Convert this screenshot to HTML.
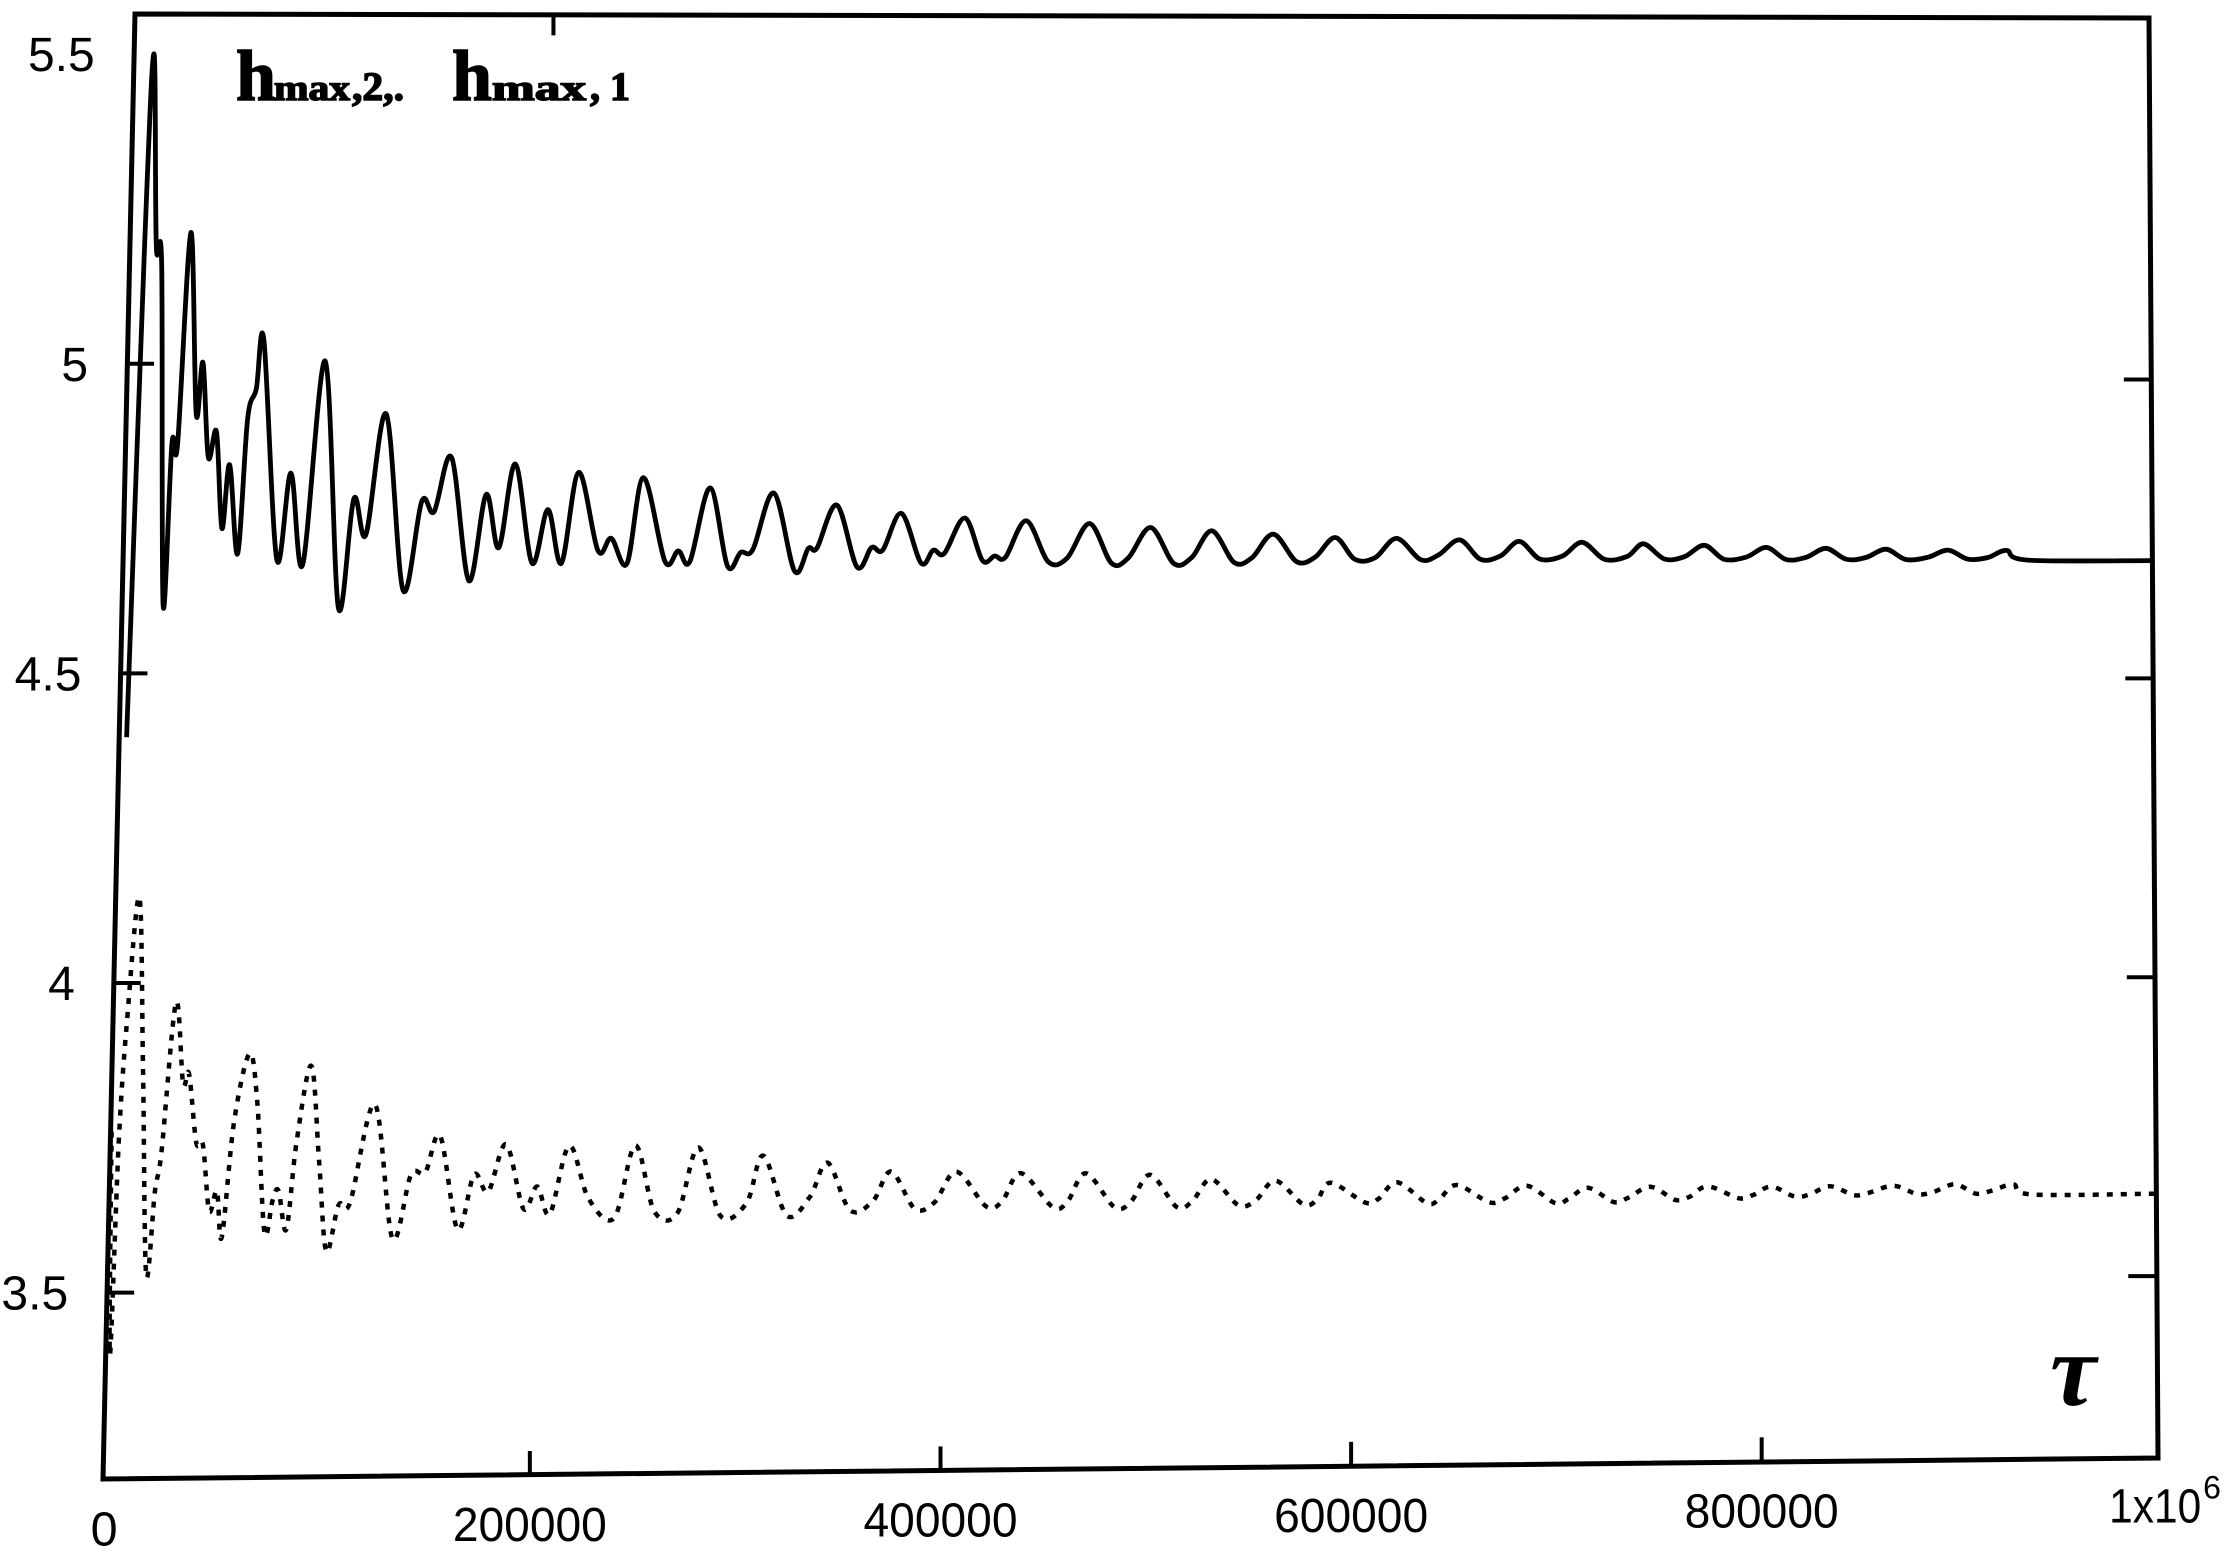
<!DOCTYPE html>
<html><head><meta charset="utf-8">
<style>
html,body{margin:0;padding:0;background:#fff;}
svg{display:block;}
</style></head>
<body>
<svg id="chart" xmlns="http://www.w3.org/2000/svg" width="2237" height="1566" viewBox="0 0 2237 1566">
<rect x="0" y="0" width="2237" height="1566" fill="#fff"/>
<polygon points="135,14 2149,18 2158,1458 103,1479" fill="none" stroke="#000" stroke-width="5" stroke-linejoin="miter"/>
<g id="ticks"></g>
<g id="labels" font-family="'Liberation Sans', Arial, sans-serif" font-size="48" fill="#000"></g>
<g id="series"></g>
<text font-family="'Liberation Serif', 'DejaVu Serif', serif" font-weight="bold" fill="#000" stroke="#000" stroke-width="1.5">
  <tspan x="236" y="100" font-size="72">h</tspan><tspan x="274" y="100" font-size="36" textLength="76" lengthAdjust="spacingAndGlyphs">max</tspan><tspan x="352" y="100" font-size="40" textLength="52" lengthAdjust="spacingAndGlyphs">,2,.</tspan><tspan x="452" y="100" font-size="72">h</tspan><tspan x="492" y="100" font-size="36" textLength="94" lengthAdjust="spacingAndGlyphs">max</tspan><tspan x="590" y="100" font-size="40" textLength="40" lengthAdjust="spacingAndGlyphs">, 1</tspan>
</text>
<text x="2050" y="1405" font-family="'Liberation Serif', 'DejaVu Serif', serif" font-style="italic" font-weight="bold" font-size="104" fill="#000">τ</text>
</svg>
<script>
// ---- data (tau, h) ----
const solidTau = [3200,7000,9600,12700,15600,19800,22500,25300,29700,34200,37000,40600,44400,48000,51200,56000,59600,63600,66900,75400,81500,88200,97400,106200,112800,119100,128000,137900,146300,152500,160700,170200,178000,184700,192200,201200,208600,215700,223500,233600,240100,248000,255500,266700,273200,279000,288500,297500,304000,310000,320000,330600,337300,341600,351100,361400,368500,374000,383000,392900,398900,404400,414300,423100,429200,434500,444600,455600,464900,475900,486800,495100,506000,517500,526300,536200,547300,556000,566500,578000,587000,597000,606800,616700,627300,639200,647900,658400,668700,678500,687800,698000,709000,718800,729900,741000,749000,759300,769200,779000,788800,799800,809600,819400,829200,839000,848900,858600,868500,878300,889300,899100,908900,918800,928000,938300,1000000];
const solidH = [4.397,5.20,5.501,5.192,5.159,4.611,4.871,4.871,5.213,4.920,5.003,4.850,4.891,4.735,4.838,4.694,4.912,4.961,5.040,4.685,4.825,4.677,5.007,4.607,4.784,4.726,4.922,4.636,4.780,4.764,4.852,4.652,4.792,4.706,4.842,4.681,4.768,4.681,4.829,4.702,4.722,4.681,4.821,4.685,4.702,4.685,4.805,4.678,4.700,4.705,4.797,4.670,4.707,4.708,4.778,4.677,4.709,4.705,4.765,4.684,4.705,4.700,4.758,4.689,4.696,4.694,4.754,4.687,4.693,4.750,4.685,4.694,4.744,4.685,4.695,4.739,4.687,4.695,4.734,4.689,4.696,4.729,4.693,4.696,4.728,4.693,4.701,4.726,4.694,4.700,4.724,4.695,4.700,4.723,4.695,4.700,4.721,4.696,4.700,4.719,4.696,4.700,4.716,4.696,4.700,4.715,4.697,4.700,4.714,4.697,4.701,4.713,4.698,4.701,4.713,4.697,4.697];
const dotTau = [0,1500,3600,6400,11200,14800,18400,21800,24600,30200,34500,37300,41500,44800,48500,52100,54900,59800,66700,71000,75700,79400,82200,86400,90600,97100,101800,106100,111700,117300,128600,138300,146800,153800,160800,170100,177700,184700,193100,202100,208600,215000,224000,233800,246500,256300,266100,277400,287200,298500,311100,319000,330800,342000,350500,361700,372900,381600,393300,403000,413500,428100,436000,445000,460700,468000,476900,491000,499000,508300,521300,529000,538200,551600,560000,569600,583100,590000,596600,613400,620000,629100,643800,650000,658400,674100,682000,692500,706300,713000,722400,735000,742000,753000,765000,772000,781000,796000,803000,812000,823600,831000,840800,852300,859000,871800,883300,891000,901800,912000,920000,930400,939600,1000000];
const dotH = [3.76,3.40,3.742,3.94,4.138,3.853,3.528,3.663,3.727,3.968,3.837,3.853,3.742,3.738,3.631,3.663,3.588,3.774,3.885,3.806,3.596,3.647,3.663,3.600,3.742,3.865,3.71,3.564,3.639,3.643,3.802,3.584,3.687,3.691,3.75,3.598,3.687,3.659,3.736,3.631,3.667,3.622,3.733,3.647,3.615,3.733,3.625,3.622,3.729,3.617,3.638,3.715,3.617,3.647,3.703,3.625,3.640,3.688,3.627,3.637,3.687,3.630,3.638,3.684,3.628,3.637,3.683,3.627,3.636,3.680,3.627,3.636,3.672,3.629,3.637,3.669,3.630,3.637,3.665,3.632,3.638,3.665,3.630,3.638,3.660,3.631,3.638,3.658,3.629,3.636,3.654,3.630,3.637,3.655,3.633,3.638,3.655,3.635,3.640,3.654,3.637,3.641,3.654,3.639,3.642,3.654,3.640,3.643,3.656,3.640,3.645,3.655,3.638,3.638];
const yTicks = [3.5,4,4.5,5,5.5];
const yTickLabels = ["3.5","4","4.5","5","5.5"];
const xTicks = [0,200000,400000,600000,800000,1000000];
const xTickLabels = ["0","200000","400000","600000","800000","1x10"];

// ---- axis mapping (scanned, slightly skewed frame) ----
const S = 1.4267;
function px(tau, h){
  const t = tau/1e6;
  const yL = 255 - (h-5)*434;
  const yR = 266 - (h-5)*419;
  const y = yL + t*(yR-yL);
  const xL = 73 + (1037-y)/1027*22;
  const xR = 1512 - (1020-y)/1008*5;
  const x = xL + t*(xR-xL);
  return [x*S, y*S];
}
function catmull(pts){
  let d = "M"+pts[0][0].toFixed(1)+","+pts[0][1].toFixed(1);
  for(let i=0;i<pts.length-1;i++){
    const p0=pts[Math.max(0,i-1)], p1=pts[i], p2=pts[i+1], p3=pts[Math.min(pts.length-1,i+2)];
    const c1=[p1[0]+(p2[0]-p0[0])/6, p1[1]+(p2[1]-p0[1])/6];
    const c2=[p2[0]-(p3[0]-p1[0])/6, p2[1]-(p3[1]-p1[1])/6];
    d+=" C"+c1[0].toFixed(1)+","+c1[1].toFixed(1)+" "+c2[0].toFixed(1)+","+c2[1].toFixed(1)+" "+p2[0].toFixed(1)+","+p2[1].toFixed(1);
  }
  return d;
}
const NS="http://www.w3.org/2000/svg";
const series=document.getElementById('series');

const solid=document.createElementNS(NS,'path');
solid.setAttribute('d', catmull(solidTau.map((t,i)=>px(t,solidH[i]))));
solid.setAttribute('fill','none');solid.setAttribute('stroke','#000');
solid.setAttribute('stroke-width','4.8');solid.setAttribute('stroke-linejoin','round');


series.appendChild(solid);

const dot=document.createElementNS(NS,'path');
dot.setAttribute('d', catmull(dotTau.map((t,i)=>px(t,dotH[i]))));
dot.setAttribute('fill','none');dot.setAttribute('stroke','#000');
dot.setAttribute('stroke-width','4.5');dot.setAttribute('stroke-dasharray','6 8');


series.appendChild(dot);

// ---- ticks & labels ----
const ticks=document.getElementById('ticks');
const labels=document.getElementById('labels');
function line(x1,y1,x2,y2,name){
  const l=document.createElementNS(NS,'line');
  l.setAttribute('x1',x1);l.setAttribute('y1',y1);l.setAttribute('x2',x2);l.setAttribute('y2',y2);
  l.setAttribute('stroke','#000');l.setAttribute('stroke-width','4');
  
  
  ticks.appendChild(l);
}
yTicks.forEach((v,i)=>{
  if(v<5.5){
    const a=px(0,v); line(a[0],a[1],a[0]+26,a[1],'y-tick-left');
    const b=px(1e6,v); line(b[0]-28,b[1],b[0],b[1],'y-tick-right');
  }
  const a=px(0,v);
  const tx=document.createElementNS(NS,'text');
  tx.setAttribute('x',a[0]-40);tx.setAttribute('y',a[1]+17);
  tx.setAttribute('text-anchor','end');
  tx.textContent=yTickLabels[i];
  
  
  labels.appendChild(tx);
});
const scanShift = 15; // scanned print offset of inner x ticks
xTicks.forEach((t,i)=>{
  const inner = (t>0 && t<1e6);
  const sh = inner ? scanShift : 0;
  if(inner){
    const a=px(t,3.198); line(a[0]+sh,a[1],a[0]+sh,a[1]-24,'x-tick-bottom');
    if(t===200000){ const b=px(t,5.575); line(b[0]+sh,b[1],b[0]+sh,b[1]+22,'x-tick-top'); }
  }
  const a=px(t,3.198);
  const tx=document.createElementNS(NS,'text');
  tx.setAttribute('x',a[0]+sh);tx.setAttribute('y',a[1]+66);
  tx.setAttribute('text-anchor',i===5?'end':'middle');
  tx.setAttribute('textLength', i===0?27:(i===5?92:154));
  tx.setAttribute('lengthAdjust','spacingAndGlyphs');
  tx.textContent=xTickLabels[i];
  
  
  labels.appendChild(tx);
  if(i===5){
    tx.setAttribute('x',a[0]+44);
    const sup=document.createElementNS(NS,'text');
    sup.setAttribute('x',a[0]+46);sup.setAttribute('y',a[1]+42);
    sup.setAttribute('font-size','32');
    sup.textContent='6';
    
    
    labels.appendChild(sup);
  }
});
</script>
</body></html>
